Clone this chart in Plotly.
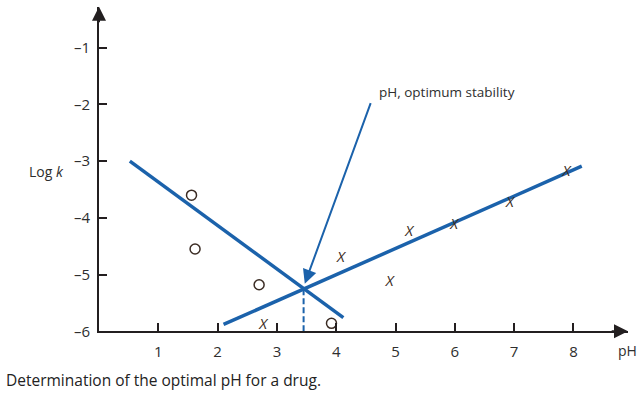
import plotly.graph_objects as go

# Measured rate constants (log k) against pH
ph_acid = [1.56, 1.62, 2.70, 3.92]
logk_acid = [-3.60, -4.55, -5.18, -5.86]
ph_base = [2.77, 4.08, 4.90, 5.23, 5.99, 6.93, 7.88]
logk_base = [-5.89, -4.72, -5.13, -4.25, -4.13, -3.75, -3.20]

# Fitted straight lines for the acid- and base-catalysed branches
acid_fit_ph = [0.52, 4.12]
acid_fit_logk = [-3.00, -5.76]
base_fit_ph = [2.10, 8.14]
base_fit_logk = [-5.88, -3.09]

# Point of optimum stability (intersection of the two lines)
ph_opt = 3.45
logk_opt = -5.24

x_ticks = [1, 2, 3, 4, 5, 6, 7, 8]
y_ticks = [-1, -2, -3, -4, -5, -6]

BLUE = "#1b62ab"
INK = "#231f20"
MARK = "#3b2c24"
TEXT = "#2e2e2e"
FONT = "Open Sans"

W, H = 640, 395
x_lo, x_hi = 0, 8.92
y_lo, y_hi = -6, -0.28

fig = go.Figure()

fig.add_trace(go.Scatter(x=acid_fit_ph, y=acid_fit_logk, mode="lines",
                         line=dict(color=BLUE, width=3.5), cliponaxis=False,
                         hoverinfo="skip"))
fig.add_trace(go.Scatter(x=base_fit_ph, y=base_fit_logk, mode="lines",
                         line=dict(color=BLUE, width=3.5), cliponaxis=False,
                         hoverinfo="skip"))
fig.add_trace(go.Scatter(x=[ph_opt, ph_opt], y=[y_lo, logk_opt], mode="lines",
                         line=dict(color=BLUE, width=2, dash="6px,3px"),
                         cliponaxis=False, hoverinfo="skip"))

fig.add_trace(go.Scatter(x=ph_acid, y=logk_acid, mode="markers",
                         marker=dict(symbol="circle-open", size=10,
                                     color=MARK, line=dict(width=1.5, color=MARK)),
                         cliponaxis=False))
fig.add_trace(go.Scatter(x=ph_base, y=logk_base, mode="text",
                         text=["<i>X</i>"] * len(ph_base),
                         textfont=dict(family=FONT, size=15, color=MARK),
                         textposition="middle center", cliponaxis=False))

axis_common = dict(showgrid=False, zeroline=False, showline=True,
                   linecolor=INK, linewidth=2, ticks="inside", ticklen=8,
                   tickwidth=2, tickcolor=INK,
                   tickfont=dict(family=FONT, size=15, color=TEXT))

fig.update_layout(
    width=W, height=H, autosize=False,
    margin=dict(l=0, r=0, t=0, b=0),
    paper_bgcolor="white", plot_bgcolor="white",
    showlegend=False,
    xaxis=dict(range=[x_lo, x_hi], domain=[99 / W, 628 / W],
               tickvals=x_ticks, ticktext=[str(v) for v in x_ticks],
               ticklabelstandoff=6, **axis_common),
    yaxis=dict(range=[y_lo, y_hi], domain=[(H - 339) / H, (H - 7) / H],
               tickvals=y_ticks, ticktext=["\u2013" + str(-v) for v in y_ticks],
               ticklabelstandoff=4, **axis_common),
)

annotations = [
    # axis arrowheads
    dict(x=x_hi, y=y_lo, ax=x_hi - 0.3, ay=y_lo, xref="x", yref="y",
         axref="x", ayref="y", text="", showarrow=True, arrowhead=2,
         arrowsize=1.4, arrowwidth=2, arrowcolor=INK),
    dict(x=x_lo, y=y_hi, ax=x_lo, ay=y_hi - 0.3, xref="x", yref="y",
         axref="x", ayref="y", text="", showarrow=True, arrowhead=2,
         arrowsize=1.4, arrowwidth=2, arrowcolor=INK),
    # pointer to the optimum
    dict(x=3.47, y=-5.16, ax=4.59, ay=-1.95, xref="x", yref="y",
         axref="x", ayref="y", text="", showarrow=True, arrowhead=2,
         arrowsize=1.4, arrowwidth=2, arrowcolor=BLUE),
    dict(x=4.68, y=-1.78, xref="x", yref="y", text="pH, optimum stability",
         showarrow=False, xanchor="left", yanchor="middle",
         font=dict(family=FONT, size=13.5, color=TEXT)),
    # axis titles
    dict(x=616 / W, y=(H - 359) / H, xref="paper", yref="paper", text="pH",
         showarrow=False, xanchor="left", yanchor="middle",
         font=dict(family=FONT, size=14, color=TEXT)),
    dict(x=27 / W, y=(H - 176) / H, xref="paper", yref="paper",
         text="Log <i>k</i>", showarrow=False, xanchor="left", yanchor="middle",
         font=dict(family=FONT, size=14, color=TEXT)),
    # caption
    dict(x=4 / W, y=(H - 389) / H, xref="paper", yref="paper",
         text="Determination of the optimal pH for a drug.",
         showarrow=False, xanchor="left", yanchor="middle",
         font=dict(family=FONT, size=15.5, color="#222222")),
]
fig.update_layout(annotations=annotations)

fig.write_html("out.html")
